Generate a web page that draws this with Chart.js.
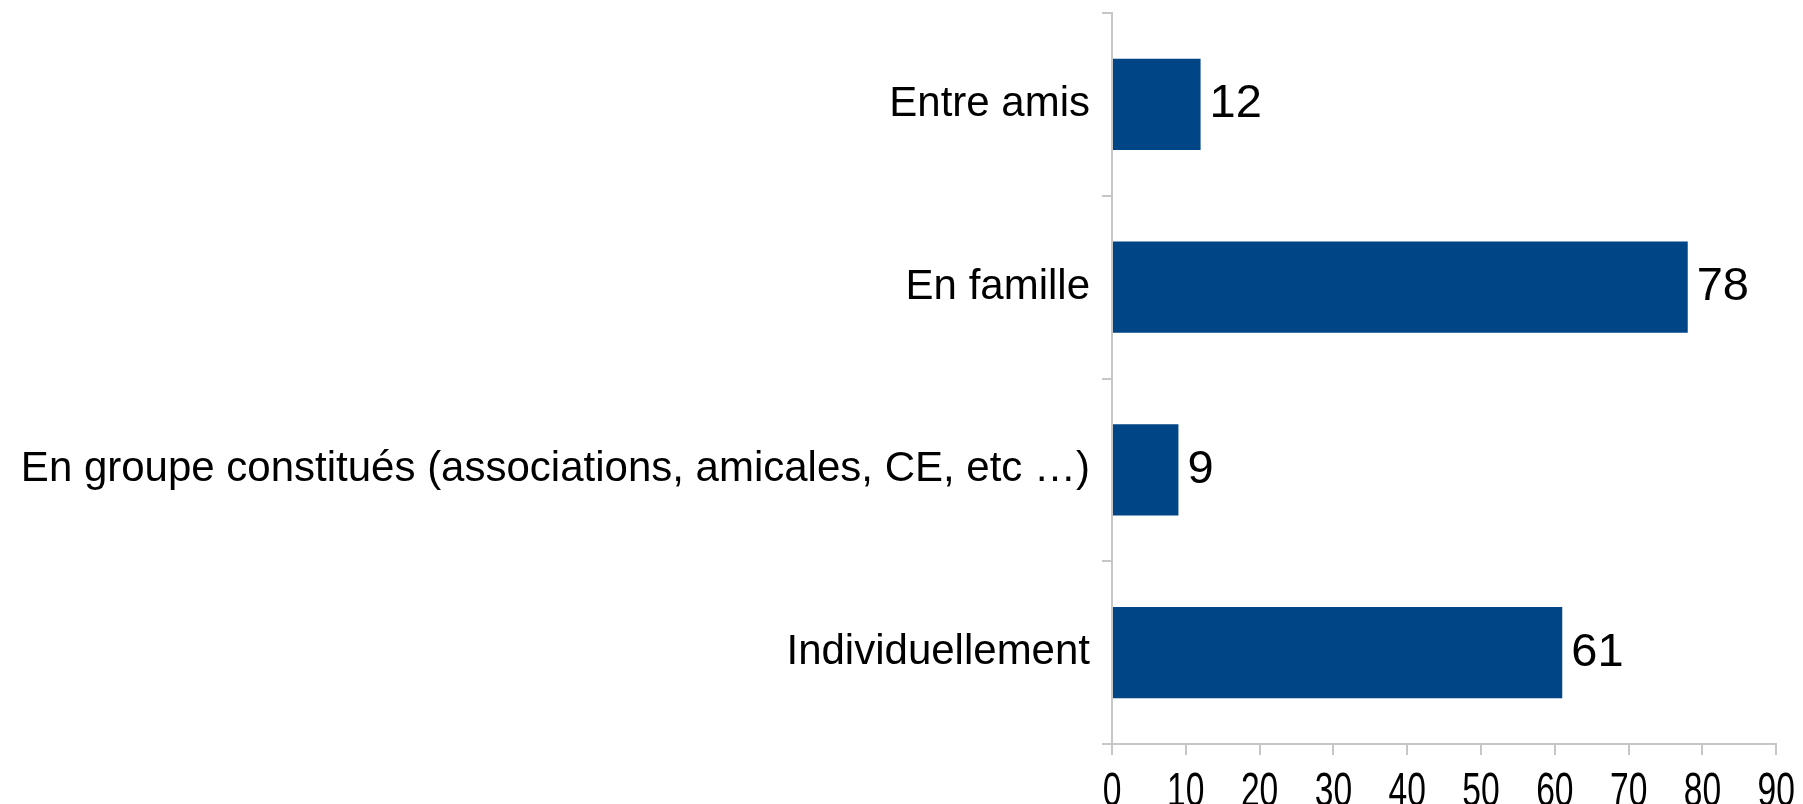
<!DOCTYPE html>
<html>
<head>
<meta charset="utf-8">
<script src="https://cdn.jsdelivr.net/npm/chart.js@4/dist/chart.umd.min.js"></script>
<style>
  html, body { margin: 0; padding: 0; background: #fff; }
  #wrap { width: 1803px; height: 804px; }
</style>
</head>
<body>
<div id="wrap"><canvas id="chart" width="1803" height="804"></canvas></div>
<script>
const categories = [
    'Entre amis',
    'En famille',
    'En groupe constitués (associations, amicales, CE, etc …)',
    'Individuellement',
];
const values = [12, 78, 9, 61];
const xTickValues = [0, 10, 20, 30, 40, 50, 60, 70, 80, 90];

const BAR_COLOR = '#004586';
const AXIS_COLOR = '#c6c6c6';
const FONT = '"Liberation Sans", Arial, sans-serif';

// value labels to the right of each bar
const barValues = {
    id: 'barValues',
    afterDatasetsDraw(chart) {
        const ctx = chart.ctx;
        const meta = chart.getDatasetMeta(0);
        ctx.save();
        ctx.font = '47px ' + FONT;
        ctx.fillStyle = '#000';
        ctx.textAlign = 'left';
        ctx.textBaseline = 'middle';
        meta.data.forEach((bar, i) => {
            ctx.fillText(String(values[i]), bar.x + 9, bar.y);
        });
        ctx.restore();
    },
};

// x tick labels are drawn narrow, like in the source picture
const narrowTicks = {
    id: 'narrowTicks',
    afterDraw(chart) {
        const ctx = chart.ctx;
        const scale = chart.scales.x;
        ctx.save();
        ctx.font = '48px ' + FONT;
        ctx.fillStyle = '#000';
        ctx.textAlign = 'center';
        ctx.textBaseline = 'alphabetic';
        scale.ticks.forEach((tick, i) => {
            const x = scale.getPixelForTick(i);
            ctx.save();
            ctx.translate(x, scale.top + 62);
            ctx.scale(0.7, 1);
            ctx.fillText(String(tick.value), 0, 0);
            ctx.restore();
        });
        ctx.restore();
    },
};

new Chart(document.getElementById('chart'), {
    type: 'bar',
    data: {
        labels: categories,
        datasets: [{
            data: values,
            backgroundColor: BAR_COLOR,
            borderWidth: 0,
            barPercentage: 0.5,
            categoryPercentage: 1,
        }],
    },
    options: {
        indexAxis: 'y',
        responsive: false,
        animation: false,
        layout: { padding: { top: 13, left: 0, right: 0, bottom: 0 } },
        plugins: {
            legend: { display: false },
            tooltip: { enabled: false },
        },
        scales: {
            x: {
                min: 0,
                max: 90,
                afterBuildTicks(scale) {
                    scale.ticks = xTickValues.map((v) => ({ value: v }));
                },
                afterFit(scale) {
                    scale.height = 60;
                },
                grid: {
                    drawOnChartArea: false,
                    tickLength: 11,
                    color: AXIS_COLOR,
                    lineWidth: 2,
                },
                border: { color: AXIS_COLOR, width: 2 },
                ticks: {
                    color: 'rgba(0,0,0,0)',
                    padding: 0,
                    font: { size: 48, family: FONT },
                    maxRotation: 0,
                    autoSkip: false,
                },
            },
            y: {
                afterFit(scale) {
                    scale.width = 1112;
                    scale.paddingTop = 0;
                    scale.paddingBottom = 0;
                },
                grid: {
                    offset: true,
                    drawOnChartArea: false,
                    tickLength: 10,
                    color: AXIS_COLOR,
                    lineWidth: 2,
                },
                border: { color: AXIS_COLOR, width: 2 },
                ticks: {
                    color: '#000',
                    padding: 12,
                    font: { size: 42, family: FONT },
                },
            },
        },
    },
    plugins: [barValues, narrowTicks],
});
</script>
</body>
</html>
